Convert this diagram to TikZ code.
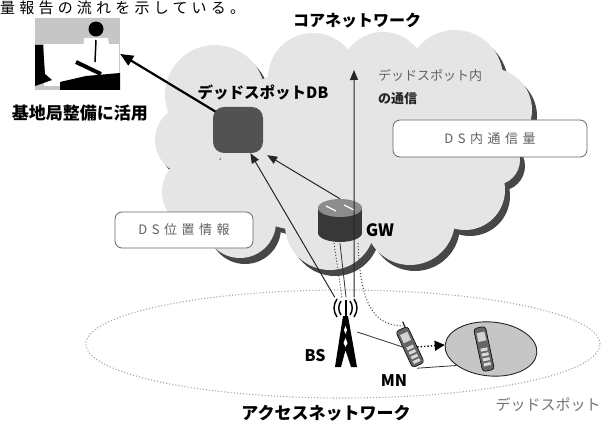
\documentclass[tikz,border=0pt]{standalone}
\usepackage{fontspec}
\setmainfont{Noto Sans CJK JP}
\usetikzlibrary{arrows.meta,shapes.geometric}
\pgfdeclarelayer{wires}
\pgfsetlayers{wires,main}
\begin{document}
\begin{tikzpicture}[x=1pt,y=-1pt,
  heavy/.style={inner sep=0pt, font=\bfseries\fontsize{#1}{#1}\selectfont},
  heavy/.default=16,
  light/.style={inner sep=0pt, text=black!62, font=\fontsize{13}{15}\selectfont},
  infobox/.style={draw=black!60, line width=0.8pt, fill=white, rounded corners=7pt,
    inner sep=0pt, text=black!62,
    font=\fontsize{13}{15}\selectfont\addfontfeature{LetterSpace=35}},
  spot/.style={inner sep=0pt, minimum width=#1},
  bigarrow/.style={line width=2.2pt, -{Triangle[length=13pt,width=11pt]}},
  flow/.style={line width=1pt, black!85, -{Triangle[length=10pt,width=8pt]}},
  link/.style={line width=0.8pt, black!80},
  dotlink/.style={line width=1pt, black!75, dotted},
  cloudfill/.style={fill=gray!20},
  cloudshade/.style={fill=black!72},
  handset/.style={fill=black!60, draw=black, line width=0.6pt, rounded corners=3pt}
]
\useasboundingbox (0,0) rectangle (606,428);
\clip (0,0) rectangle (606,428);
\begin{pgfonlayer}{wires}
  \fill[white] (0,0) rectangle (606,428);
\end{pgfonlayer}

% running text line above the figure
\node[anchor=north west, inner sep=0pt,
  font=\fontsize{15}{16}\selectfont\addfontfeature{LetterSpace=28}] (lead) at (0,0.5) {量報告の流れを示している。};

% core network cloud: shadow first, then the light body
\def\cloudparts{215/95/50, 190/140/35, 313/78/45, 383/75/43, 455/78/48, 490/110/42,
  300/150/80, 400/150/70, 200/192/38, 240/222/36, 330/225/45, 410/220/45, 465/190/40, 495/160/25}
\begin{pgfonlayer}{wires}
  \foreach \cx/\cy/\r in \cloudparts \fill[cloudshade] (\cx+5,\cy+6) circle[radius=\r pt];
  \foreach \cx/\cy/\r in \cloudparts \fill[cloudfill] (\cx,\cy) circle[radius=\r pt];
\end{pgfonlayer}

% access network boundary
\draw[gray!70, dotted, line width=1.1pt] (343,344) ellipse[x radius=257pt, y radius=54pt];

% operator at a desk
\node[spot=85pt, minimum height=72pt, fill=gray!45] (photo) at (77.5,54) {};
\fill[white] (44,44) rectangle (119,86);
\fill[black] (35,45) -- (43,45) -- (45,74) -- (52,80) -- (35,86) -- cycle;
\fill[white] (84,38) -- (108,38) -- (113,72) -- (82,72) -- cycle;
\fill[black] (96,29) circle[radius=7.5pt];
\draw[black, line width=1.5pt] (96,40) -- (95,62);
\draw[black, line width=4pt] (76,62) -- (101,74);
\fill[black] (60,82) -- (86,76) -- (120,73) -- (120,90) -- (60,90) -- cycle;
\node[heavy=17] (use) at (80,113) {基地局整備に活用};

% titles
\node[heavy] (core) at (357,21) {コアネットワーク};
\node[heavy=15.5] (dbtitle) at (263,93) {デッドスポットDB};

% dead spot database
\node[spot=50pt, minimum height=46pt, fill=black!68, rounded corners=11pt] (db) at (238,130) {};

% gateway router
\node[spot=46pt, minimum height=44pt] (gw) at (340,221) {};
\fill[black!78] (318,208) rectangle (362,233);
\fill[black!78] (340,233) ellipse[x radius=22pt, y radius=9pt];
\fill[black!45] (340,208) ellipse[x radius=22pt, y radius=9pt];
\draw[white, line width=1.2pt] (326,206) -- (336,211) (344,205) -- (354,210);
\node[heavy=17] (gwlabel) at (380,230) {GW};

% base station
\node[spot=22pt, minimum height=69pt] (bs) at (346,332) {};
\fill[black] (343,316) -- (348,316) -- (357,367) -- (351,367) -- (345.5,350) -- (341,367) -- (335,367) -- cycle;
\fill[white] (345.5,326) -- (347,330) -- (345.5,334) -- (344,330) -- cycle;
\fill[white] (345.5,338) -- (347.5,343) -- (345.5,347) -- (343.5,343) -- cycle;
\draw[black, line width=2pt] (345.5,300) -- (345.5,318);
\draw[black, line width=1.4pt] (341,301) .. controls (338,305) and (338,311) .. (341,315)
  (337,299) .. controls (333,305) and (333,311) .. (337,317)
  (350,301) .. controls (353,305) and (353,311) .. (350,315)
  (354,299) .. controls (358,305) and (358,311) .. (354,317);
\node[heavy] (bslabel) at (315,356) {BS};

% mobile node
\node[spot=14pt, minimum height=42pt] (mn) at (410,347) {};
\begin{scope}[shift={(410,347)}, rotate=25]
  \draw[black, line width=1pt] (4,-20) -- (4,-26);
  \filldraw[handset] (-6.5,-20) rectangle (6.5,20);
  \fill[gray!35] (-4,-15) rectangle (4,-6);
  \foreach \ky in {0,5,10,15} \fill[gray!30] (-3.5,\ky-1) rectangle (3.5,\ky+2);
\end{scope}
\node[heavy] (mnlabel) at (394,381) {MN};

% dead spot
\node[ellipse, draw=black!85, line width=0.9pt, fill=gray!45, minimum width=92pt,
  minimum height=54pt, inner sep=0pt, rotate=-5] (ds) at (491,349) {};
\begin{scope}[shift={(484,349)}, rotate=12]
  \filldraw[handset] (-6,-22) rectangle (6,22);
  \fill[gray!35] (-4,-17) rectangle (4,-8);
  \foreach \ky in {0,5,10,15} \fill[gray!30] (-3.5,\ky-1) rectangle (3.5,\ky+2);
\end{scope}
\node[inner sep=0pt, text=black!55, font=\fontsize{15}{17}\selectfont] (dslabel) at (548,405) {デッドスポット};
\node[heavy=17] (access) at (326,413) {アクセスネットワーク};

% info boxes
\node[infobox, minimum width=194pt, minimum height=37pt] (traffic) at (490,138.5) {DS内通信量};
\node[infobox, minimum width=138pt, minimum height=36pt] (position) at (184,230) {DS位置情報};

% connectors
\coordinate (up) at (354,70);
\begin{pgfonlayer}{wires}
  \draw[bigarrow] ([shift={(8pt,-8pt)}]db.north west) -- (photo.east);
\end{pgfonlayer}
\draw[flow] (gw.north) -- ([xshift=4pt,yshift=-2pt]db.south east);
\draw[flow] (bs.north west) -- (db.-62);
\draw[flow] ([xshift=-3pt]bs.north east) -- (up);
\draw[link] (bs.north) -- (gw.south);
\draw[dotlink] ([xshift=-4pt]bs.north) -- ([xshift=-6pt]gw.south);
\draw[dotlink] ([xshift=18pt]gw.south) .. controls (360,300) and (372,326) .. (mn.north west);
\draw[link] (bs.east) -- (mn.west);
\draw[link] (mn.south east) -- (ds.south west);
\draw[dotted, line width=1.4pt, -{Triangle[length=10pt,width=10pt]}] (mn.east) -- (ds.west);

% traffic note beside the upward arrow
\node[light, anchor=west] (inner1) at (378,75) {デッドスポット内};
\node[light, anchor=west, text=black!85, font=\bfseries\fontsize{13}{15}\selectfont] (inner2) at (378,99) {の通信};
\end{tikzpicture}
\end{document}
